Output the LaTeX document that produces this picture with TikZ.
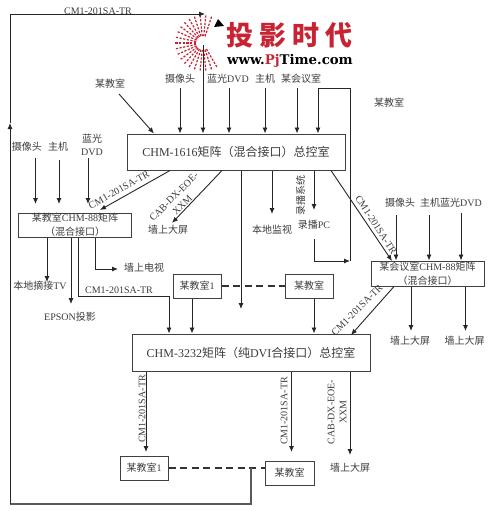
\documentclass[tikz,border=0pt]{standalone}
\usepackage{fontspec}
\setmainfont{Liberation Serif}
\newfontfamily\cjk{Noto Sans CJK SC}
\newfontfamily\logofont{DejaVu Serif}
\usetikzlibrary{arrows.meta}
\definecolor{logored}{RGB}{200,35,50}
\definecolor{inkgrey}{RGB}{60,60,60}
\tikzset{
  room/.style = {rectangle, draw=black!75, line width=1pt, inner sep=0pt, text=inkgrey, font=\fontsize{10}{14}\selectfont\cjk, align=center},
  matrixbox/.style = {room, font=\fontsize{12}{14}\selectfont},
  txt/.style = {inner sep=0pt, text=inkgrey, font=\fontsize{10}{12}\selectfont, align=center},
  cjktxt/.style = {txt, font=\fontsize{10}{12}\selectfont\cjk},
  arr/.style = {-{Latex[length=6pt,width=5pt]}, line width=0.9pt, black!85},
  lnk/.style = {dash pattern=on 7pt off 4.5pt, line width=1.1pt, black!80}
}
\begin{document}
\begin{tikzpicture}[x=1pt,y=-1pt]
\useasboundingbox (0,0) rectangle (500,511);

% Logo
\foreach \ang in {60,72,...,290}{
  \draw[logored, line width=1.2pt, dash pattern=on 2.2pt off 1.5pt] (203,43) ++(\ang:7) -- ++(\ang:21);
}
\fill[black] (218,19) -- (214,27) -- (224,26) -- cycle;
\node[txt, font=\fontsize{27}{28}\bfseries\cjk, text=logored] (logo1) at (289.5,35) {投\hspace{6pt}影\hspace{6pt}时\hspace{6pt}代};
\node[txt, font=\fontsize{13.3}{14}\bfseries\logofont, text=black] (logo2) at (290,61) {www.\textcolor{logored}{Pj}Time.com};

% Matrices
\node[matrixbox, minimum width=218pt, minimum height=36pt] (m1616) at (236,152) {CHM-1616{\cjk 矩阵（混合接口）总控室}};
\node[matrixbox, minimum width=238pt, minimum height=37pt] (m3232) at (251,352.5) {CHM-3232{\cjk 矩阵（纯}DVI{\cjk 合接口）总控室}};
\node[room, minimum width=113pt, minimum height=24pt] (leftm) at (75,225) {某教室{\rmfamily CHM-88}矩阵\\（混合接口）};
\node[room, minimum width=113pt, minimum height=25pt] (rightm) at (427.5,273.5) {某会议室{\rmfamily CHM-88}矩阵\\（混合接口）};

% Rooms
\node[room, minimum width=48pt, minimum height=24pt] (midr1) at (197,286) {某教室{\rmfamily 1}};
\node[room, minimum width=48pt, minimum height=24pt] (midr2) at (309,286) {某教室};
\node[room, minimum width=48pt, minimum height=24pt] (botr1) at (144,468) {某教室{\rmfamily 1}};
\node[room, minimum width=49pt, minimum height=24pt] (botr2) at (289.5,473) {某教室};

% Top sources
\node[cjktxt] (s1) at (110,84) {某教室};
\node[cjktxt] (s2) at (180,79) {摄像头};
\node[txt] (s3) at (228,79) {{\cjk 蓝光}DVD};
\node[cjktxt] (s4) at (265,79) {主机};
\node[cjktxt] (s5) at (301,79) {某会议室};
\node[cjktxt] (s6) at (389,103) {某教室};

% Left sources
\node[cjktxt] (l1) at (27,147) {摄像头};
\node[cjktxt] (l2) at (58,147) {主机};
\node[txt, font=\fontsize{10}{13}\selectfont] (l3) at (92,145) {{\cjk 蓝光}\\DVD};

% Right sources
\node[cjktxt] (r1) at (400,203) {摄像头};
\node[txt] (r2) at (451,203) {{\cjk 主机蓝光}DVD};

% Sinks
\node[cjktxt] (wall1) at (168,230) {墙上大屏};
\node[cjktxt] (mon) at (272,230) {本地监视};
\node[txt] (pc) at (314,225) {{\cjk 录播}PC};
\node[txt] (tv) at (40,286) {{\cjk 本地摘接}TV};
\node[txt] (epson) at (70,317) {EPSON{\cjk 投影}};
\node[cjktxt] (walltv) at (144,268) {墙上电视};
\node[cjktxt] (wall2) at (410,341) {墙上大屏};
\node[cjktxt] (wall3) at (464.5,341) {墙上大屏};
\node[cjktxt] (wall4) at (350,468) {墙上大屏};

% Connector labels
\node[txt] (t1) at (98,11) {CM1-201SA-TR};
\node[txt, rotate=29] (t2) at (119,190) {CM1-201SA-TR};
\node[txt, rotate=45] (t3) at (178,201) {CAB-DX-EOE-\\XXM};
\node[cjktxt, rotate=90] (t4) at (300.5,195) {录播系统};
\node[txt, rotate=-57] (t5) at (376,225) {CM1-201SA-TR};
\node[txt] (t6) at (119,290) {CM1-201SA-TR};
\node[txt, rotate=45] (t7) at (357,310) {CM1-201SA-TR};
\node[txt, rotate=90] (t8) at (142,409) {CM1-201SA-TR};
\node[txt, rotate=90] (t9) at (284,411) {CM1-201SA-TR};
\node[txt, rotate=90] (t10) at (337,412) {CAB-DX-EOE-\\XXM};

% ----- ARROWS -----
% Into 1616
\coordinate (s1end) at (119,94);
\draw[arr] (s1end) -- (m1616.north -| 154,0);
\draw[arr] (s2.south |- 0,88) -- (m1616.north -| s2);
\coordinate (logoend) at (203,45);
\draw[arr] (logoend) -- (m1616.north -| 203,0);
\draw[arr] (229,88) -- (m1616.north -| 229,0);
\draw[arr] (s4.south |- 0,88) -- (m1616.north -| s4);
\draw[arr] (297,88) -- (m1616.north -| 297,0);
% Loop on the right
\coordinate (loopa) at (350,88);
\coordinate (loopb) at (350,261);
\draw[arr] (loopb) -- (loopa) -- (318,88) -- (m1616.north -| 318,0);
\draw[arr] (pc.south |- 0,239) |- (loopb);
% Out of 1616
\draw[arr] (m1616.south -| 170,0) -- (100,210);
\draw[arr] (m1616.south -| 222,0) -- (172,223);
\draw[arr] (m1616.south -| 241,0) -- (241,309);
\draw[arr] (m1616.south -| mon) -- (272,214);
\draw[arr] (m1616.south -| pc) -- (314,210);
\draw[arr] (m1616.south -| 331,0) -- (392,261);
% Left matrix
\draw[arr] (35.5,158) -- (35.5,204);
\draw[arr] (59,160) -- (59,204);
\draw[arr] (88,158) -- (88,204);
\draw[arr] (leftm.south -| 47,0) -- (47,282);
\draw[arr] (leftm.south -| 71,0) -- (71,304);
\draw[arr] (leftm.south -| 78.5,0) |- (169,296) -- (m3232.north -| 169,0);
\draw[arr] (leftm.south -| 95,0) |- (118,269);
% Right matrix
\draw[arr] (396,215) -- (rightm.north -| 396,0);
\draw[arr] (429,215) -- (rightm.north -| 429,0);
\draw[arr] (461,213) -- (rightm.north -| 461,0);
\draw[arr] (rightm.south -| 411,0) -- (411,331);
\draw[arr] (rightm.south -| 465.5,0) -- (465.5,331);
\draw[arr] (rightm.south -| 394,0) -- (351,335);
% Rooms to 3232
\draw[arr] (midr1.south -| 192,0) -- (m3232.north -| 192,0);
\draw[arr] (midr2.south -| 314,0) -- (m3232.north -| 314,0);
\draw[lnk] (midr1) -- (midr2);
% Out of 3232
\draw[arr] (m3232.south -| 146,0) -- (146,452);
\draw[arr] (m3232.south -| 291.5,0) -- (291.5,452);
\draw[arr] (m3232.south -| 350,0) -- (350,455);
% Return path
\coordinate (retb) at (251,468);
\coordinate (retc) at (251,504);
\coordinate (retd) at (10,504);
\coordinate (rete) at (10,123);
\coordinate (retf) at (10,14);
\draw[lnk] (botr1) -- (botr1 -| botr2.west);
\draw[line width=1.1pt, black!65] (retb) -- (retc) -- (retd);
\draw[arr] (retd) -- (rete);
\draw[arr] (rete) -- (retf) -- (205,14);
\end{tikzpicture}
\end{document}
